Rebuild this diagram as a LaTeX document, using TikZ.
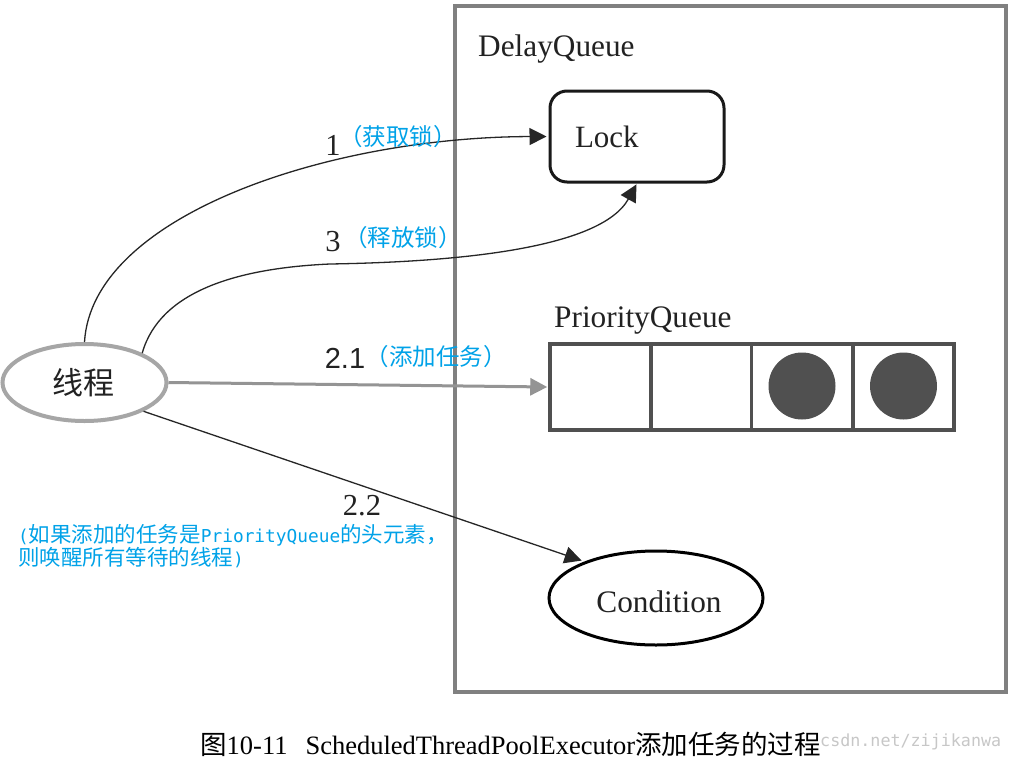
\documentclass[tikz,border=0pt]{standalone}
\usepackage{fontspec}
\setmainfont{Liberation Serif}
\newfontfamily\cjk{Noto Sans CJK SC}
\newfontfamily\blmono{DejaVu Sans Mono}
\newfontfamily\hsans{Liberation Sans}
\usetikzlibrary{arrows.meta,shapes.geometric}
\definecolor{blu}{HTML}{00A2E8}
\definecolor{outer}{HTML}{808080}
\definecolor{dark}{HTML}{505050}
\definecolor{txt}{HTML}{222222}
\newcommand{\fs}[1]{\fontsize{#1}{#1}\selectfont}
\tikzset{
  lab/.style={font=\fs{31.3},text=txt,inner sep=0pt},
  blue lab/.style={font=\cjk\fs{23.5},text=blu,inner sep=0pt},
  cellbox/.style={draw=dark,line width=3.5pt,minimum width=101pt,minimum height=86pt,inner sep=0pt},
  dot/.style={circle,fill=dark,minimum size=67pt,inner sep=0pt},
  conn/.style={draw=black!85,line width=1.3pt,-{Triangle[length=17pt,width=17pt]}},
  plain/.style={font=\fs{30.5},text=txt}
}
\begin{document}
\begin{tikzpicture}[x=1pt,y=-1pt]
\useasboundingbox (0,0) rectangle (1012,761);
\fill[white] (0,0) rectangle (1012,761);
\node[draw=outer,line width=4pt,minimum width=551pt,minimum height=686pt,inner sep=0pt] (outerbox) at (730.5,349) {};
\node[lab,anchor=west] (dq) at (478,49) {DelayQueue};
\node[draw=black!90,line width=3pt,rounded corners=17pt,minimum width=174pt,minimum height=91pt,inner xsep=25pt,inner ysep=0pt,text width=124pt,align=left,font=\fs{31},text=txt] (lock) at (637,136.5) {\raisebox{-2pt}{Lock}};
\node[lab,anchor=west] (pq) at (554,321) {PriorityQueue};
\node[cellbox] (c1) at (600.5,387) {};
\node[cellbox] (c2) at (701,387) {};
\node[cellbox] (c3) at (802,387) {};
\node[cellbox] (c4) at (903.5,387) {};
\node[dot] (d1) at (802,386) {};
\node[dot] (d2) at (903.5,386) {};
\node[ellipse,draw=black,line width=3pt,minimum width=214pt,minimum height=94pt,inner sep=0pt,font=\fs{31.3},text=txt] (cond) at (656,598) {\kern6pt\raisebox{0pt}[30pt][2pt]{Condition}};
\node[ellipse,draw=black!35,line width=4pt,minimum width=164pt,minimum height=77pt,inner sep=0pt,font=\cjk\fs{31},text=txt] (thread) at (84.5,382.5) {\kern-3pt 线程};
\draw[conn,shorten >=2pt] (thread.north) .. controls (92,215) and (330,137) .. (lock.west);
\draw[conn,shorten >=1pt] (thread.27) .. controls (160,290) and (240,268) .. (330,264) .. controls (450,262) and (600,250) .. (lock.south);
\draw[draw=black!42,line width=3pt,-{Triangle[length=17pt,width=17pt]},shorten >=1pt] (thread.east) -- (c1.west);
\draw[conn,shorten >=3pt] (thread.-26) -- (cond.153);
\node[plain,inner sep=0pt] (n1) at (333,145) {1};
\node[blue lab] (b1) at (398,137) {（获取锁）};
\node[plain,inner sep=0pt] (n3) at (333,242) {3};
\node[blue lab] (b3) at (403,238) {（释放锁）};
\node[font=\hsans\fs{29},text=txt,inner sep=0pt] (n21) at (345,358) {2.1};
\node[blue lab] (b21) at (436,357) {（添加任务）};
\node[plain,inner sep=0pt] (n22) at (362,506) {2.2};
\node[blue lab,anchor=west] (b22a) at (18,535) {\blmono\fs{17.8}(\cjk\fs{21.5}如果添加的任务是\blmono\fs{17.8}PriorityQueue\cjk\fs{21.5}的头元素，};
\node[blue lab,anchor=west] (b22b) at (18,558) {\cjk\fs{21.5}则唤醒所有等待的线程\blmono\fs{17.8})};
\node[font=\blmono\fs{16.7},text=black!22,inner sep=0pt,anchor=west] (wm) at (820,742) {csdn.net/zijikanwa};
\node[font=\fs{26.5},text=black,inner sep=0pt,anchor=west] (cap) at (200,744) {{\cjk 图}10-11\hspace{18pt}ScheduledThreadPoolExecutor{\cjk 添加任务的过程}};
\end{tikzpicture}
\end{document}
